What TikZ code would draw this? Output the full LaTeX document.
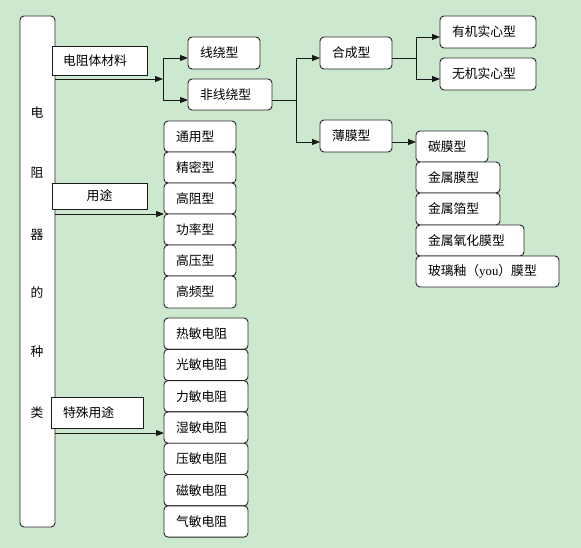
\documentclass[tikz,border=0pt]{standalone}
\usepackage{fontspec}
\setmainfont{Noto Sans CJK SC}
\newfontfamily\latfont{Liberation Serif}
\usetikzlibrary{arrows.meta}
\definecolor{bg}{RGB}{204,232,207}
\newcommand\bx[8]{%
 \pgfmathsetmacro\bw{#5-#3-2*#7}%
 \pgfmathsetmacro\bh{#6-#4}%
 \node[#1, anchor=north west, text width=\bw pt, inner xsep=#7pt, inner ysep=0pt, outer sep=0pt, minimum height=\bh pt] (#2) at (#3,#4) {#8};}
\begin{document}
\begin{tikzpicture}[x=1pt,y=-1pt,
  font=\fontsize{12.8}{15}\selectfont,
  rbox/.style={draw=black!85, fill=white, rounded corners=4pt, line width=0.9pt, align=left},
  sbox/.style={draw=black!90, fill=white, line width=0.9pt, align=left},
  cbox/.style={draw=black!90, fill=white, line width=0.9pt, align=center},
  arr/.style={-{Triangle[length=8pt,width=6pt]}, line width=0.9pt, draw=black!90},
  ln/.style={line width=0.9pt, draw=black!90},
  ch/.style={inner sep=0pt}]
\fill[bg] (0,0) rectangle (581,548);
\useasboundingbox (0,0) rectangle (581,548);
% main box
\bx{rbox}{main}{20}{16}{55}{527}{0}{}
\node[ch] (c1) at (37,113) {电};
\node[ch] (c2) at (37,173) {阻};
\node[ch] (c3) at (37,235) {器};
\node[ch] (c4) at (37,293) {的};
\node[ch] (c5) at (37,352) {种};
\node[ch] (c6) at (37,413) {类};
% label boxes
\bx{sbox}{l1}{52}{46}{147}{75}{11}{电阻体材料}
\bx{cbox}{l2}{52}{183}{147}{209}{6}{用途}
\bx{sbox}{l3}{51}{397}{143}{428}{12}{特殊用途}
% material branch
\bx{rbox}{xr}{188}{37}{260}{69}{12}{线绕型}
\bx{rbox}{fxr}{188}{79}{272}{110}{12}{非线绕型}
\bx{rbox}{hc}{320}{37}{392}{69}{12}{合成型}
\bx{rbox}{yj}{440}{16}{536}{48}{12}{有机实心型}
\bx{rbox}{wj}{440}{58}{536}{90}{12}{无机实心型}
\bx{rbox}{bm}{320}{120}{392}{152}{12}{薄膜型}
\bx{rbox}{tm}{416}{131}{488}{162}{12}{碳膜型}
\bx{rbox}{js}{416}{162}{500}{193}{12}{金属膜型}
\bx{rbox}{jb}{416}{193}{500}{225}{12}{金属箔型}
\bx{rbox}{jy}{416}{225}{524}{256}{12}{金属氧化膜型}
\bx{rbox}{bl}{416}{256}{559}{287}{12}{玻璃釉（{\latfont you}）膜型}
% use stack
\bx{rbox}{ty}{164}{121}{236}{152}{12}{通用型}
\bx{rbox}{jm}{164}{152}{236}{183}{12}{精密型}
\bx{rbox}{gz}{164}{183}{236}{214}{12}{高阻型}
\bx{rbox}{gl}{164}{214}{236}{245}{12}{功率型}
\bx{rbox}{gy}{164}{245}{236}{276}{12}{高压型}
\bx{rbox}{gp}{164}{276}{236}{308}{12}{高频型}
% special stack
\bx{rbox}{rm}{164}{318}{248}{349.3}{12}{热敏电阻}
\bx{rbox}{gm}{164}{349.3}{248}{380.6}{12}{光敏电阻}
\bx{rbox}{lm}{164}{380.6}{248}{411.9}{12}{力敏电阻}
\bx{rbox}{sm}{164}{411.9}{248}{443.2}{12}{湿敏电阻}
\bx{rbox}{ym}{164}{443.2}{248}{474.5}{12}{压敏电阻}
\bx{rbox}{cm}{164}{474.5}{248}{505.8}{12}{磁敏电阻}
\bx{rbox}{qm}{164}{505.8}{248}{537.1}{12}{气敏电阻}
% connectors
\coordinate (b1) at (163,79);
\draw[arr] (main.east |- b1) -- (b1);
\draw[arr] (b1) |- ([yshift=-5pt]xr.west);
\draw[arr] (b1) |- ([yshift=-5.5pt]fxr.west);
\coordinate (p2) at ([yshift=-5.5pt]fxr.east);
\coordinate (b2) at (p2 -| 296,0);
\draw[ln] (p2) -- (b2);
\draw[arr] (b2) |- ([yshift=-5pt]hc.west);
\draw[arr] (b2) |- ([yshift=-6pt]bm.west);
\coordinate (p3) at ([yshift=-5pt]hc.east);
\coordinate (b3) at (p3 -| 416,0);
\draw[ln] (p3) -- (b3);
\draw[arr] (b3) |- ([yshift=-5pt]yj.west);
\draw[arr] (b3) |- ([yshift=-5pt]wj.west);
\coordinate (p4) at ([yshift=-6pt]bm.east);
\draw[arr] (p4) -- (p4 -| tm.west);
\draw[arr] (main.east |- gz.south west) -- (gz.south west);
\coordinate (t3) at ([yshift=-5.5pt]sm.west);
\draw[arr] (main.east |- t3) -- (t3);
\end{tikzpicture}
\end{document}
